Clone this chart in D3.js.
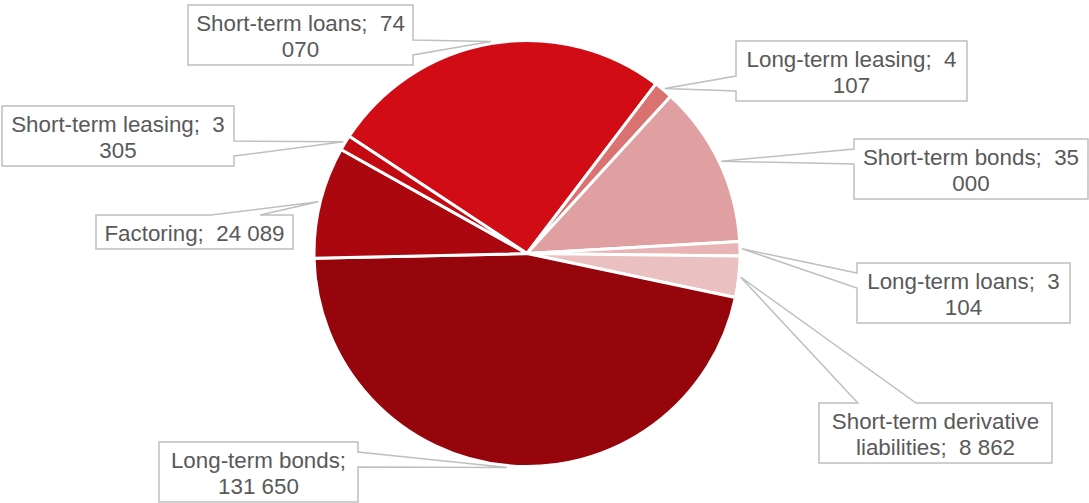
<!DOCTYPE html>
<html><head><meta charset="utf-8">
<script src="https://cdn.jsdelivr.net/npm/d3@7"></script>
<style>html,body{margin:0;padding:0;background:#fff;overflow:hidden} svg{display:block}</style>
</head><body>
<script>
// ---- data ----
const categories = ["Short-term loans","Long-term leasing","Short-term bonds","Long-term loans","Short-term derivative liabilities","Long-term bonds","Factoring","Short-term leasing"];
const values = [74070,4107,35000,3104,8862,131650,24089,3305];
const colors = ["#D20C15","#DA7272","#E0A0A1","#E8B4B5","#EBC0C1","#95050B","#AA080E","#C30A12"];

// ---- layout (label box positions x, y, w, h) ----
const labelBoxes = [[188,5,225,60],[736,41,231,60],[854,139,234,60],[857,263,213,60],[819,403,233,60],[159,442,199,60],[96,215,197,34],[2,106,232,60]];

const W = 1089, H = 503;
const cx = 527, cy = 253.5, R = 213;
const startDeg = -56.6;
const FONT = "'Liberation Sans', Arial, sans-serif";

const svg = d3.select("body").append("svg").attr("width", W).attr("height", H);

const a0 = startDeg * Math.PI / 180;
const pie = d3.pie().sort(null).value(d => d).startAngle(a0).endAngle(a0 + 2 * Math.PI);
const arcs = pie(values);
const arc = d3.arc().innerRadius(0).outerRadius(R);

const g = svg.append("g").attr("transform", `translate(${cx},${cy})`);
g.selectAll("path").data(arcs).join("path")
  .attr("d", arc)
  .attr("fill", (d, i) => colors[i])
  .attr("stroke", "#fff").attr("stroke-width", 3).attr("stroke-linejoin", "round");

// ---- font sizing by measurement ----
const meas = svg.append("text").attr("font-family", FONT).attr("font-size", 20).style("white-space", "pre").attr("x", -1000).attr("y", -1000);
function width(s, fs) { meas.attr("font-size", fs).text(s); return meas.node().getComputedTextLength(); }
const refW = width("Long-term leasing;  4", 20);
const fontSize = 20 * 210 / refW;

const fmt = v => d3.format(",")(v).replace(/,/g, " ");

function wrap(name, value, maxW) {
  const toks = [];
  const nw = name.split(" ");
  nw.forEach((w, i) => toks.push({t: i === nw.length - 1 ? w + ";" : w, sep: " "}));
  fmt(value).split(" ").forEach((w, i) => toks.push({t: w, sep: i === 0 ? "  " : " "}));
  const lines = [];
  let line = toks[0].t;
  for (let k = 1; k < toks.length; k++) {
    const cand = line + toks[k].sep + toks[k].t;
    if (width(cand, fontSize) <= maxW) line = cand;
    else { lines.push(line); line = toks[k].t; }
  }
  lines.push(line);
  return lines;
}

function callout(x, y, w, h, px, py) {
  const hc = x + w / 2, vc = y + h / 2;
  const dx = px - hc, dy = py - vc;
  const dq = dx * h / w;
  const x1 = x, x2 = x + w, y1 = y, y2 = y + h;
  let pts;
  if (Math.abs(dy) > Math.abs(dq)) {
    const xa = dx > 0 ? x + w * 7 / 12 : x + w * 2 / 12;
    const xb = dx > 0 ? x + w * 10 / 12 : x + w * 5 / 12;
    if (dy < 0) pts = [[x1,y1],[xa,y1],[px,py],[xb,y1],[x2,y1],[x2,y2],[x1,y2]];
    else pts = [[x1,y1],[x2,y1],[x2,y2],[xb,y2],[px,py],[xa,y2],[x1,y2]];
  } else {
    const ya = dy > 0 ? y + h * 7 / 12 : y + h * 2 / 12;
    const yb = dy > 0 ? y + h * 10 / 12 : y + h * 5 / 12;
    if (dx < 0) pts = [[x1,y1],[x2,y1],[x2,y2],[x1,y2],[x1,yb],[px,py],[x1,ya]];
    else pts = [[x1,y1],[x2,y1],[x2,ya],[px,py],[x2,yb],[x2,y2],[x1,y2]];
  }
  return "M" + pts.map(p => p.join(",")).join("L") + "Z";
}

const labels = svg.append("g");
arcs.forEach((d, i) => {
  const [bx, by, bw, bh] = labelBoxes[i];
  const m = (d.startAngle + d.endAngle) / 2;
  const px = cx + (R + 2) * Math.sin(m), py = cy - (R + 2) * Math.cos(m);
  labels.append("path")
    .attr("d", callout(bx, by, bw, bh, px, py))
    .attr("fill", "#fff").attr("stroke", "#BFBFBF").attr("stroke-width", 1.5);
  const lines = wrap(categories[i], values[i], bw - 6);
  const vc = by + bh / 2;
  const t = labels.append("text")
    .attr("font-family", FONT).attr("font-size", fontSize)
    .attr("fill", "#595959").attr("text-anchor", "middle")
    .style("white-space", "pre");
  lines.forEach((l, k) => {
    t.append("tspan").attr("x", bx + bw / 2)
      .attr("y", vc + (k - (lines.length - 1) / 2) * 26 + 8.5)
      .text(l);
  });
});
meas.remove();
</script>
</body></html>
